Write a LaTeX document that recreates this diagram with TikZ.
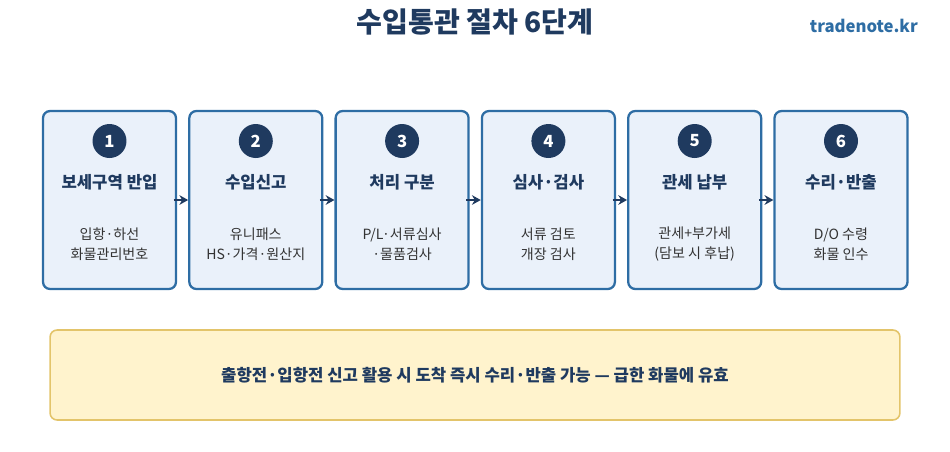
\documentclass[tikz,border=0pt]{standalone}
\usepackage{fontspec}
\setmainfont{Noto Sans CJK KR}
\usetikzlibrary{arrows.meta}
\definecolor{navy}{HTML}{1F3A5F}
\definecolor{stepline}{HTML}{2E6DA4}
\definecolor{stepfill}{HTML}{EAF1FA}
\definecolor{notefill}{HTML}{FFF3CD}
\definecolor{noteline}{HTML}{E3C46A}
\definecolor{subgray}{HTML}{333333}
\tikzset{
	stepstyle/.style={rectangle,rounded corners=4pt,draw=stepline,line width=1.3pt,fill=stepfill,minimum width=2.66cm,minimum height=3.56cm},
	numstyle/.style={circle,fill=navy,minimum size=0.68cm,inner sep=0pt,text=white,font=\fontsize{9.5}{11}\selectfont\bfseries},
	headstyle/.style={text=navy,font=\fontsize{9.5}{11}\selectfont\bfseries},
	substyle/.style={text=subgray,align=center,font=\fontsize{8}{11.5}\selectfont},
	notestyle/.style={rectangle,rounded corners=4pt,draw=noteline,line width=0.9pt,fill=notefill,minimum width=17cm,minimum height=1.8cm}
}
\begin{document}
\begin{tikzpicture}[x=0.02cm,y=-0.02cm]
	\useasboundingbox (0,0) rectangle (950,451);
	\node[text=navy,font=\fontsize{16}{18}\selectfont\bfseries] (title) at (475,22) {수입통관 절차 6단계};
	\node[anchor=east,text=stepline,font=\fontsize{9.5}{11}\selectfont\bfseries] (site) at (924,26) {tradenote.kr};
	\foreach \i/\head/\sub in {1/보세구역 반입/{입항·하선\\화물관리번호},2/수입신고/{유니패스\\HS·가격·원산지},3/처리 구분/{P/L·서류심사\\·물품검사},4/심사·검사/{서류 검토\\개장 검사},5/관세 납부/{관세+부가세\\(담보 시 후납)},6/수리·반출/{D/O 수령\\화물 인수}}{
		\node[stepstyle] (s\i) at ({109.5+146.3*(\i-1)},200) {};
		\node[numstyle] (n\i) at ({109.5+146.3*(\i-1)},141) {\i};
		\node[headstyle] (h\i) at ({109.5+146.3*(\i-1)},182) {\head};
		\node[substyle] (t\i) at ({109.5+146.3*(\i-1)},244) {\sub};
	}
	\foreach \i/\j in {1/2,2/3,3/4,4/5,5/6}
		\draw[-{Stealth[length=5pt,width=5.5pt]},navy,line width=1.5pt,shorten <=-2pt] (s\i.east)--(s\j.west);
	\node[notestyle] (note) at (475,375) {};
	\node[text=navy,font=\fontsize{9.5}{11}\selectfont\bfseries] (notetext) at (475,375) {출항전·입항전 신고 활용 시 도착 즉시 수리·반출 가능 — 급한 화물에 유효};
\end{tikzpicture}
\end{document}
